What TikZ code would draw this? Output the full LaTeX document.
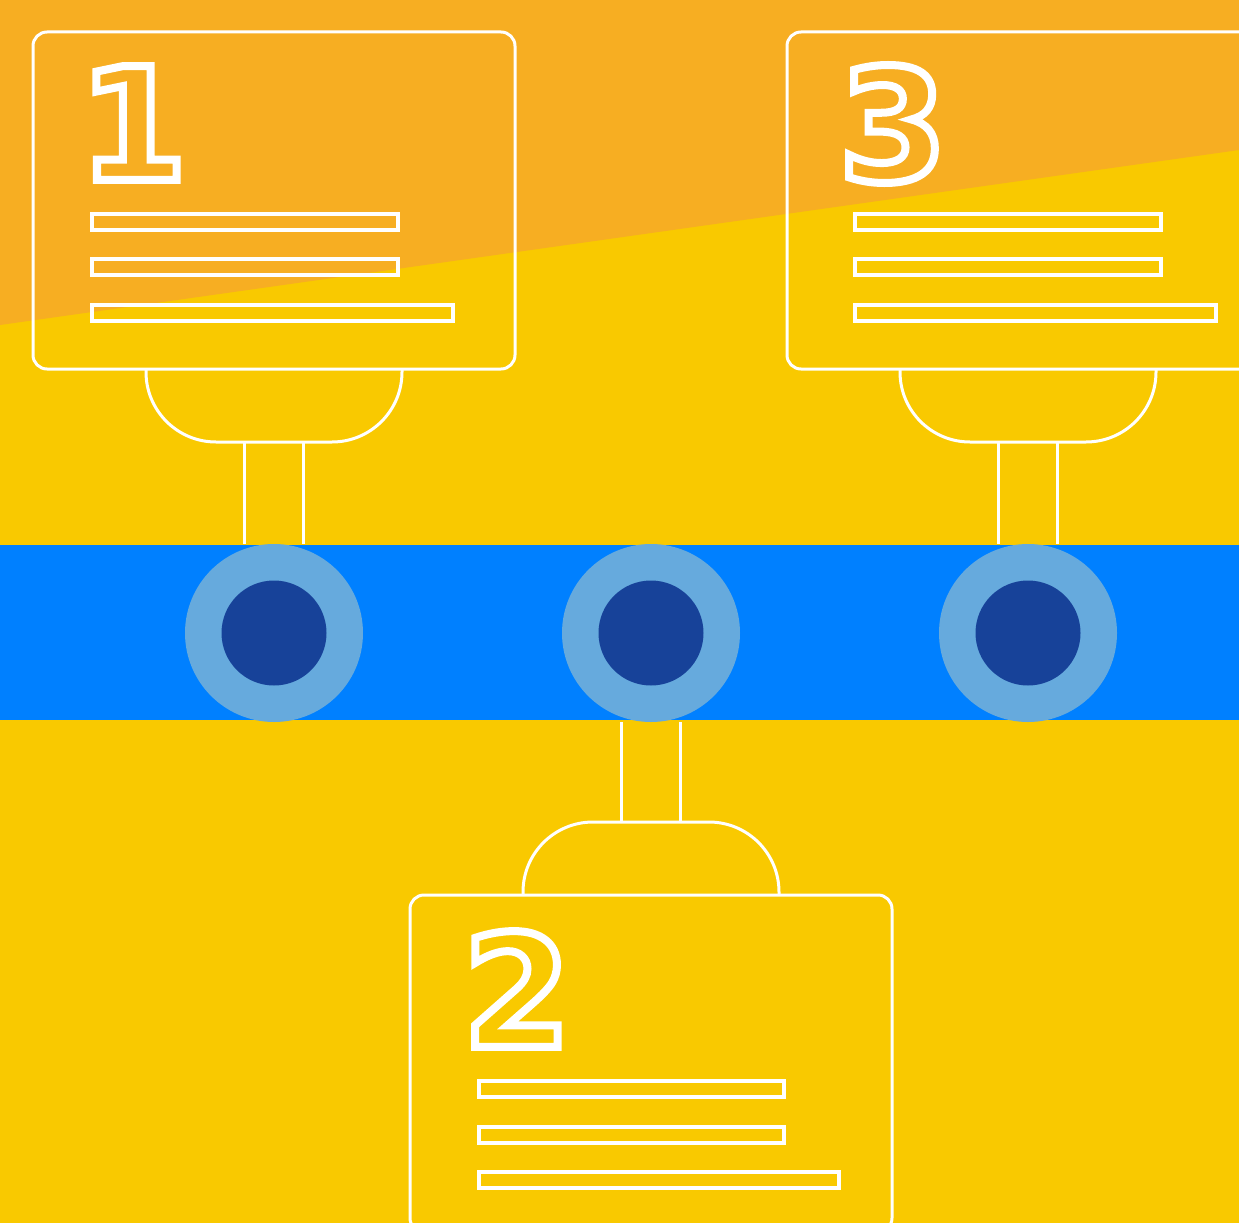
\documentclass[tikz,border=0pt]{standalone}
\usepackage{fontspec}
\newfontfamily\digitfont{DejaVu Sans}
\usetikzlibrary{positioning}

\definecolor{sunorange}{RGB}{247,174,34}
\definecolor{sunyellow}{RGB}{249,201,0}
\definecolor{bandblue}{RGB}{0,128,255}
\definecolor{ringblue}{RGB}{102,170,221}
\definecolor{dotblue}{RGB}{23,66,153}

% outlined glyphs (stroke only)
\newcommand{\hollow}[1]{\special{pdf:literal direct 1 Tr 8 w}#1\special{pdf:literal direct 0 Tr}}

\begin{document}
\begin{tikzpicture}[x=1pt, y=-1pt,
    panel/.style={draw=white, line width=3pt, rounded corners=14pt, minimum width=482pt, minimum height=337pt, inner sep=0pt, outer sep=0pt},
    tab/.style={draw=white, line width=3pt, rounded corners=70pt},
    stem/.style={draw=white, line width=3pt},
    bar/.style={draw=white, line width=3.5pt},
    ring/.style={circle, fill=ringblue, minimum size=178pt, inner sep=0pt, outer sep=0pt},
    dot/.style={circle, fill=dotblue, minimum size=105pt, inner sep=0pt, outer sep=0pt},
    digit/.style={text=white, inner sep=0pt, font=\digitfont\bfseries\fontsize{156}{156}\selectfont}]
  \useasboundingbox (0,0) rectangle (1239,1223);
  \clip (0,0) rectangle (1239,1223);

  % background
  \fill[sunyellow] (0,0) rectangle (1239,1223);
  \fill[sunorange] (0,0) -- (1239,0) -- (1239,150) -- (0,325) -- cycle;
  \fill[bandblue] (0,545) rectangle (1239,720);

  % panels
  \node[panel] (box1) at (274,200.5) {};
  \node[panel] (box3) at (1028,200.5) {};
  \node[panel] (box2) at (651,1063.5) {};

  \draw[tab] ([xshift=-128pt]box1.south) -- ++(0,73) -- ++(256,0) -- ++(0,-73);
  \draw[tab] ([xshift=-128pt]box3.south) -- ++(0,73) -- ++(256,0) -- ++(0,-73);
  \draw[tab] ([xshift=-128pt]box2.north) -- ++(0,-73) -- ++(256,0) -- ++(0,73);

  % timeline points
  \node[ring] (c1) at (274,633) {};
  \node[dot] (d1) at (c1) {};
  \node[ring] (c2) at (651,633) {};
  \node[dot] (d2) at (c2) {};
  \node[ring] (c3) at (1028,633) {};
  \node[dot] (d3) at (c3) {};

  \foreach \s in {-29.5,29.5} {
    \draw[stem] ([xshift=\s pt, yshift=-73pt]box1.south) -- ([xshift=\s pt]c1.north);
    \draw[stem] ([xshift=\s pt, yshift=-73pt]box3.south) -- ([xshift=\s pt]c3.north);
    \draw[stem] ([xshift=\s pt]c2.south) -- ([xshift=\s pt, yshift=73pt]box2.north);
  }

  % text lines
  \foreach \x/\y/\w in {92/214/306, 92/259/306, 92/305/361,
                        855/214/306, 855/259/306, 855/305/361,
                        479/1081/305, 479/1127/305, 479/1172/360}
    \draw[bar] (\x,\y) rectangle ++(\w,16);

  % step numbers
  \node[digit] (n1) at (133,123) {\hollow{1}};
  \node[digit] (n3) at (893,124) {\hollow{3}};
  \node[digit] (n2) at (517,989) {\hollow{2}};
\end{tikzpicture}
\end{document}
